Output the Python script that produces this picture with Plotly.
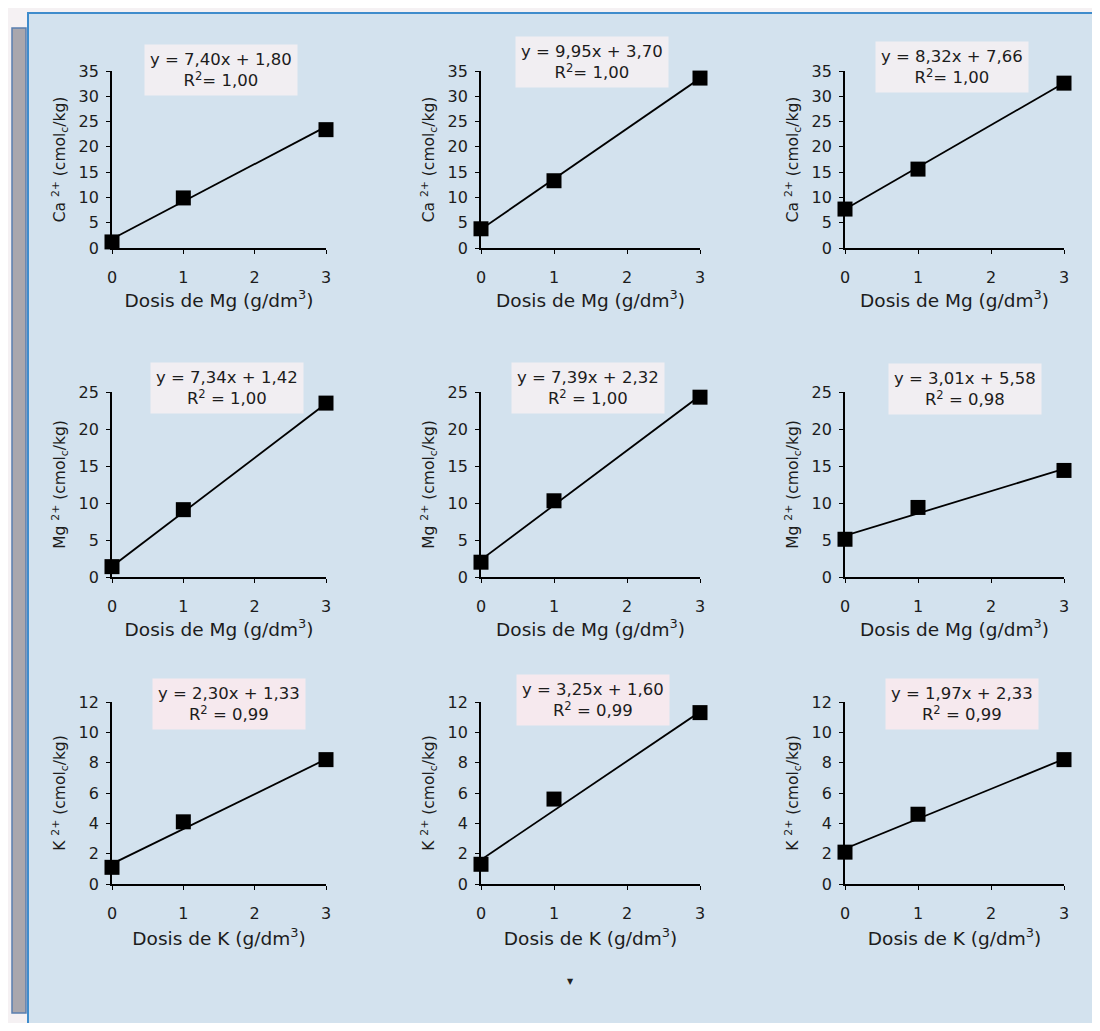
import plotly.graph_objects as go

# ---------------- data ----------------
doses = [0, 1, 3]
tick_x = [0, 1, 2, 3]

ca_1 = [1.2, 9.9, 23.4]
ca_2 = [3.8, 13.3, 33.6]
ca_3 = [7.7, 15.6, 32.6]
mg_1 = [1.4, 9.1, 23.5]
mg_2 = [2.0, 10.3, 24.3]
mg_3 = [5.1, 9.4, 14.4]
k_1 = [1.1, 4.1, 8.2]
k_2 = [1.3, 5.6, 11.3]
k_3 = [2.1, 4.6, 8.2]

series = [ca_1, ca_2, ca_3, mg_1, mg_2, mg_3, k_1, k_2, k_3]
slopes = [7.40, 9.95, 8.32, 7.34, 7.39, 3.01, 2.30, 3.25, 1.97]
intercepts = [1.80, 3.70, 7.66, 1.42, 2.32, 5.58, 1.33, 1.60, 2.33]
r2_values = ["1,00", "1,00", "1,00", "1,00", "1,00", "0,98", "0,99", "0,99", "0,99"]

y_titles = ["Ca <sup>2+</sup> (cmol<sub>c</sub>/kg)"] * 3 + \
           ["Mg <sup>2+</sup> (cmol<sub>c</sub>/kg)"] * 3 + \
           ["K <sup>2+</sup> (cmol<sub>c</sub>/kg)"] * 3
x_titles = ["Dosis de Mg (g/dm<sup>3</sup>)"] * 6 + ["Dosis de K (g/dm<sup>3</sup>)"] * 3
y_max = [35, 35, 35, 25, 25, 25, 12, 12, 12]
y_dtick = [5, 5, 5, 5, 5, 5, 2, 2, 2]

# ---------------- layout geometry (reference pixels) ----------------
PAGE_W, PAGE_H = 1100, 1031
OFF = 8                      # default page margin around the figure
W, H = PAGE_W - 2 * OFF, PAGE_H - 2 * OFF
def fx(px):
    return (px - OFF) / W
def fy(py):
    return 1 - (py - OFF) / H

col_px = [(112, 326), (481, 700), (845, 1064)]
row_px = [(71, 248), (392, 577), (702, 884)]
row_title_standoff = [2, 7, 10]
box_centers = [(221, 70), (592, 62), (952, 67),
               (227, 388), (588, 388), (965, 389),
               (229, 704), (593, 700), (962, 704)]
box_bg = ["#f1eef2"] * 6 + ["#f6e9ee"] * 3
r2_sep = ["", "", "", " ", " ", " ", " ", " ", " "]

FONT = "DejaVu Sans, sans-serif"
TXT = "#1c1c1c"
BG_BLUE = "#d3e2ee"

fig = go.Figure()
layout = {}
annotations = []

for i in range(9):
    r, c = divmod(i, 3)
    ax = "" if i == 0 else str(i + 1)
    xa, ya = "x" + ax, "y" + ax
    # linear trend line from the equation
    line_x = [tick_x[0], tick_x[-1]]
    line_y = [slopes[i] * v + intercepts[i] for v in line_x]
    fig.add_trace(go.Scatter(
        x=line_x, y=line_y, mode="lines", xaxis=xa, yaxis=ya,
        line=dict(color="black", width=1.8), cliponaxis=False,
        showlegend=False, hoverinfo="skip"))
    # data points
    fig.add_trace(go.Scatter(
        x=doses, y=series[i], mode="markers", xaxis=xa, yaxis=ya,
        marker=dict(symbol="square", size=15, color="black"),
        cliponaxis=False, showlegend=False, hoverinfo="x+y"))

    x0, x1 = col_px[c]
    y0, y1 = row_px[r]
    layout["xaxis" + ax] = dict(
        domain=[fx(x0), fx(x1)], range=[0, 3], tickvals=tick_x,
        anchor=ya, showline=True, linecolor="black", linewidth=1.8,
        ticks="outside", ticklen=4, tickcolor="black", tickwidth=1.2,
        showgrid=False, zeroline=False, ticklabelstandoff=10,
        tickfont=dict(family=FONT, size=16, color=TXT),
        title=dict(text=x_titles[i], standoff=row_title_standoff[r],
                   font=dict(family=FONT, size=18.5, color=TXT)))
    layout["yaxis" + ax] = dict(
        domain=[fy(y1), fy(y0)], range=[0, y_max[i]], dtick=y_dtick[i],
        anchor=xa, showline=True, linecolor="black", linewidth=1.8,
        ticks="outside", ticklen=4, tickcolor="black", tickwidth=1.2,
        showgrid=False, zeroline=False, ticklabelstandoff=4,
        tickfont=dict(family=FONT, size=16, color=TXT),
        title=dict(text=y_titles[i], standoff=9,
                   font=dict(family=FONT, size=15.5, color=TXT)))

    bx, by = box_centers[i]
    annotations.append(dict(
        x=fx(bx), y=fy(by), xref="paper", yref="paper",
        xanchor="center", yanchor="middle",
        text=f"y = {slopes[i]:.2f}x + {intercepts[i]:.2f}".replace(".", ",")
             + f"<br>R<sup>2</sup>{r2_sep[i]}= {r2_values[i]}",
        showarrow=False, align="center", bgcolor=box_bg[i],
        borderpad=5, font=dict(family=FONT, size=16.5, color=TXT)))

# small marker at bottom centre
annotations.append(dict(x=fx(570), y=fy(981), xref="paper", yref="paper",
                        xanchor="center", yanchor="middle",
                        text="▼", showarrow=False,
                        font=dict(size=8, color="#222")))

shapes = [
    # page background frame
    dict(type="rect", xref="paper", yref="paper", x0=fx(28), x1=fx(1096),
         y0=fy(1040), y1=fy(13), fillcolor=BG_BLUE,
         line=dict(color="#3f8ccc", width=2), layer="below"),
    # grey side bar
    dict(type="rect", xref="paper", yref="paper", x0=fx(12), x1=fx(26),
         y0=fy(1013), y1=fy(28), fillcolor="#a9a7ad",
         line=dict(color="#5a7fb0", width=1.5), layer="below"),
]

fig.update_layout(
    **layout,
    annotations=annotations,
    shapes=shapes,
    width=W, height=H,
    margin=dict(l=0, r=0, t=0, b=0, autoexpand=False),
    paper_bgcolor="#f5f1f3",
    plot_bgcolor="rgba(0,0,0,0)",
    font=dict(family=FONT, color=TXT),
    showlegend=False,
)

fig.write_html("out.html")
